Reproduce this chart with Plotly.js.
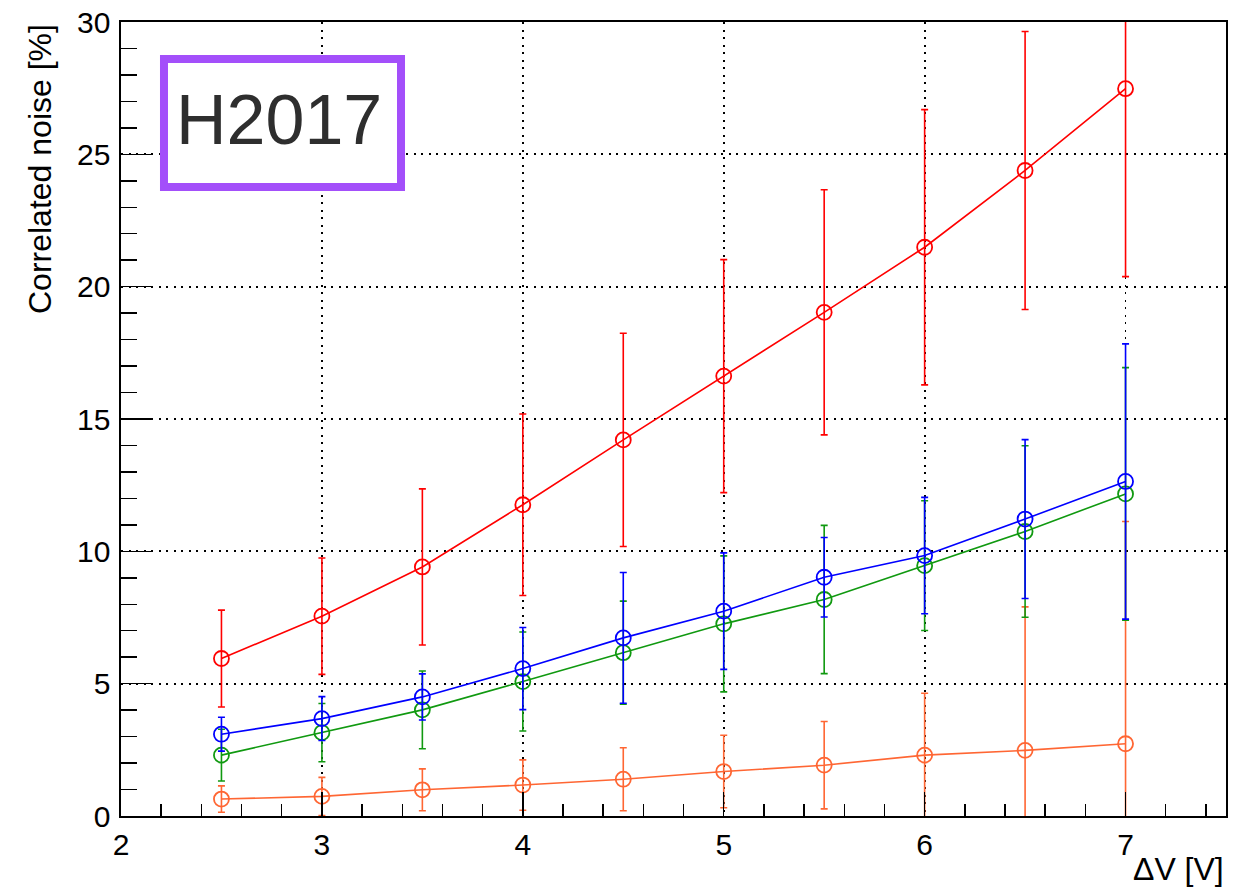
<!DOCTYPE html>
<html>
<head>
<meta charset="utf-8">
<script src="https://cdn.plot.ly/plotly-3.0.1.min.js"></script>
<style>
  html, body { margin: 0; padding: 0; background: #ffffff; }
  #chart { width: 1236px; height: 887px; }
</style>
</head>
<body>
<div id="chart"></div>
<script>
// Over-voltage points [V]
const deltaV = [2.5, 3.0, 3.5, 4.0, 4.5, 5.0, 5.5, 6.0, 6.5, 7.0];

// Correlated noise [%] and its uncertainty, one pair per series
const redNoise    = [5.95, 7.55, 9.41, 11.76, 14.21, 16.62, 19.03, 21.49, 24.39, 27.48];
const redErr      = [1.83, 2.20, 2.95, 3.43, 4.03, 4.40, 4.63, 5.20, 5.25, 7.10];

const blueNoise   = [3.09, 3.68, 4.50, 5.57, 6.73, 7.74, 9.02, 9.84, 11.22, 12.64];
const blueErr     = [0.64, 0.83, 0.87, 1.55, 2.47, 2.20, 1.50, 2.20, 3.00, 5.20];

const greenNoise  = [2.30, 3.15, 4.01, 5.08, 6.17, 7.26, 8.18, 9.46, 10.75, 12.17];
const greenErr    = [0.98, 1.10, 1.47, 1.87, 1.95, 2.57, 2.80, 2.45, 3.24, 4.77];

const orangeNoise = [0.64, 0.74, 0.99, 1.17, 1.39, 1.68, 1.92, 2.30, 2.48, 2.73];
const orangeErr   = [0.50, 0.72, 0.79, 0.95, 1.19, 1.37, 1.65, 2.34, 5.42, 8.40];

const labelText = 'H2017';
const xTitle = '\u0394V [V]';
const yTitle = 'Correlated noise [%]';

const FONT = '"Liberation Sans", Arial, Helvetica, sans-serif';

function series(y, err, color) {
  return {
    x: deltaV,
    y: y,
    type: 'scatter',
    mode: 'lines+markers',
    line: { color: color, width: 1.6 },
    marker: { symbol: 'circle-open', size: 15, color: color, line: { color: color, width: 1.8 } },
    error_y: { type: 'data', array: err, visible: true, color: color, thickness: 1.6, width: 3.5 },
    cliponaxis: true,
    showlegend: false,
    hoverinfo: 'x+y'
  };
}

const traces = [
  series(orangeNoise, orangeErr, '#ff6633'),
  series(greenNoise, greenErr, '#109910'),
  series(blueNoise, blueErr, '#0000ff'),
  series(redNoise, redErr, '#ff0000')
];

const axisCommon = {
  showline: true,
  linecolor: '#000000',
  linewidth: 1.6,
  mirror: true,
  ticks: 'inside',
  tickcolor: '#000000',
  tickwidth: 1.5,
  showgrid: true,
  gridcolor: '#000000',
  gridwidth: 1.8,
  griddash: '2px,5.5px',
  zeroline: false,
  tickfont: { family: FONT, size: 30, color: '#000000' }
};

const layout = {
  width: 1236,
  height: 887,
  margin: { l: 121, r: 10, t: 22, b: 71 },
  paper_bgcolor: '#ffffff',
  plot_bgcolor: '#ffffff',
  xaxis: Object.assign({}, axisCommon, {
    range: [2, 7.5],
    dtick: 1,
    tick0: 2,
    ticklen: 24,
    ticklabelstandoff: 1,
    minor: { dtick: 0.2, tick0: 2, ticks: 'inside', ticklen: 12, tickwidth: 1.5, tickcolor: '#000000', showgrid: false }
  }),
  yaxis: Object.assign({}, axisCommon, {
    range: [0, 30],
    dtick: 5,
    tick0: 0,
    ticklen: 32,
    ticklabelstandoff: 3,
    minor: { dtick: 1, tick0: 0, ticks: 'inside', ticklen: 16, tickwidth: 1.5, tickcolor: '#000000', showgrid: false }
  }),
  shapes: [
    {
      type: 'rect', xref: 'paper', yref: 'paper', layer: 'above',
      x0: 0.0389, x1: 0.2534, y0: 0.7922, y1: 0.9534,
      fillcolor: '#ffffff',
      line: { color: '#a34ffa', width: 8 }
    }
  ],
  annotations: [
    {
      text: labelText, xref: 'paper', yref: 'paper',
      x: 0.143, y: 0.876, xanchor: 'center', yanchor: 'middle',
      showarrow: false,
      font: { family: FONT, size: 70, color: '#2e2e2e' }
    },
    {
      text: yTitle, xref: 'paper', yref: 'paper',
      x: -0.0733, y: 1, xanchor: 'center', yanchor: 'top',
      textangle: -90, showarrow: false,
      font: { family: FONT, size: 32, color: '#000000' }
    },
    {
      text: xTitle, xref: 'paper', yref: 'paper',
      x: 1, y: -0.0668, xanchor: 'right', yanchor: 'middle',
      showarrow: false,
      font: { family: FONT, size: 32, color: '#000000' }
    }
  ]
};

Plotly.newPlot('chart', traces, layout, { displayModeBar: false, staticPlot: true });
</script>
</body>
</html>
